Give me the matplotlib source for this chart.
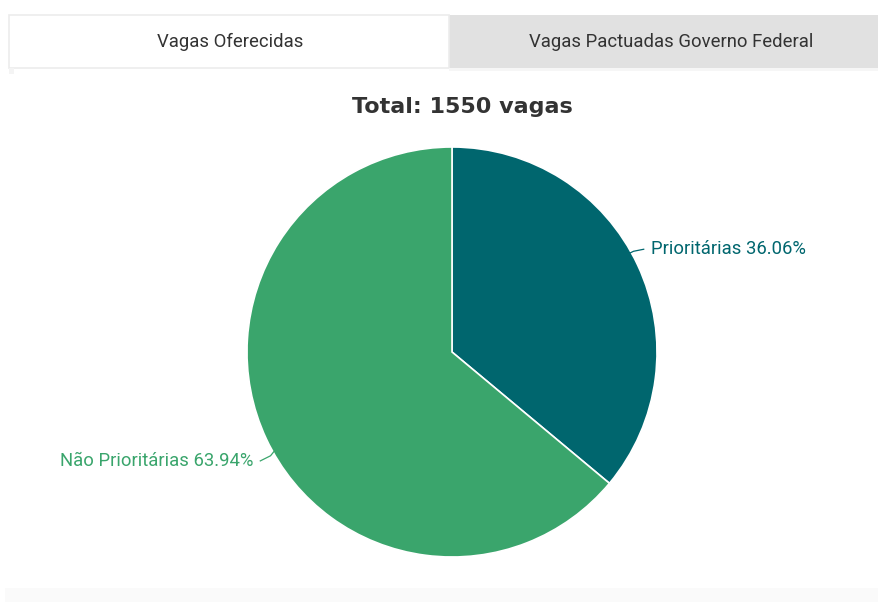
import numpy as np
import matplotlib.pyplot as plt
from matplotlib.patches import Rectangle

# Data
categories = ["Prioritárias", "Não Prioritárias"]
vagas = [559, 991]
total = sum(vagas)
tabs = ["Vagas Oferecidas", "Vagas Pactuadas Governo Federal"]

colors = ["#00666e", "#3aa56c"]

W, H = 879, 602
fig = plt.figure(figsize=(W / 100, H / 100), dpi=100)
fig.patch.set_facecolor("white")

def fx(px):
    return px / W

def fy(py):
    return 1 - py / H

# Tab bar
bg = fig.add_axes([0, 0, 1, 1], zorder=0)
bg.set_xlim(0, W)
bg.set_ylim(H, 0)
bg.axis("off")
bg.add_patch(Rectangle((449, 15), W - 449, 53, facecolor="#e1e1e1", edgecolor="none"))
bg.add_patch(Rectangle((9, 15), 440, 53, facecolor="white", edgecolor="#ececec", lw=1.2))
bg.add_patch(Rectangle((9, 68), 5, 6, facecolor="#f4f4f4", edgecolor="none"))
bg.add_patch(Rectangle((449, 68), W - 449, 3, facecolor="#f6f6f6", edgecolor="none"))
bg.add_patch(Rectangle((5, 588), W - 5, 14, facecolor="#fafafa", edgecolor="none"))
bg.text(230, 42, tabs[0], ha="center", va="center", fontsize=13.3,
        family="Roboto", color="#333333")
bg.text(671, 42, tabs[1], ha="center", va="center", fontsize=13.3,
        family="Roboto", color="#333333")

# Title
fig.text(fx(462), fy(107), f"Total: {total} vagas", ha="center", va="center",
         fontsize=16, fontweight="bold", family="DejaVu Sans", color="#333333")

# Pie
cx, cy, r = 452, 352, 205
ax = fig.add_axes([fx(cx - r), fy(cy + r), 2 * r / W, 2 * r / H], zorder=1)
wedges, _ = ax.pie(vagas, colors=colors, startangle=90, counterclock=False,
                   radius=1, wedgeprops=dict(edgecolor="white", linewidth=1.2))
ax.set_xlim(-1, 1)
ax.set_ylim(-1, 1)
ax.set_aspect("auto")
ax.axis("off")

# Labels with short connectors
pct = [v / total * 100 for v in vagas]
for w, name, p, col in zip(wedges, categories, pct, colors):
    mid = np.deg2rad((w.theta1 + w.theta2) / 2)
    side = 1 if np.cos(mid) >= 0 else -1
    ang = mid + np.deg2rad(4.0)
    x0, y0 = np.cos(ang) * 0.99, np.sin(ang) * 0.99
    ty = y0 + (0.02 if side > 0 else -0.05)
    tx = x0 + side * 0.075
    ax.plot([x0, x0 + side * 0.02, tx - side * 0.005],
            [y0, (y0 + ty) / 2, ty],
            color=col, lw=0.9, clip_on=False)
    ax.text(tx + side * 0.03, ty, f"{name} {p:.2f}%",
            ha="left" if side > 0 else "right", va="center",
            fontsize=13.3, family="Roboto", color=col, clip_on=False)

fig.savefig("out.png", dpi=100, facecolor="white")
